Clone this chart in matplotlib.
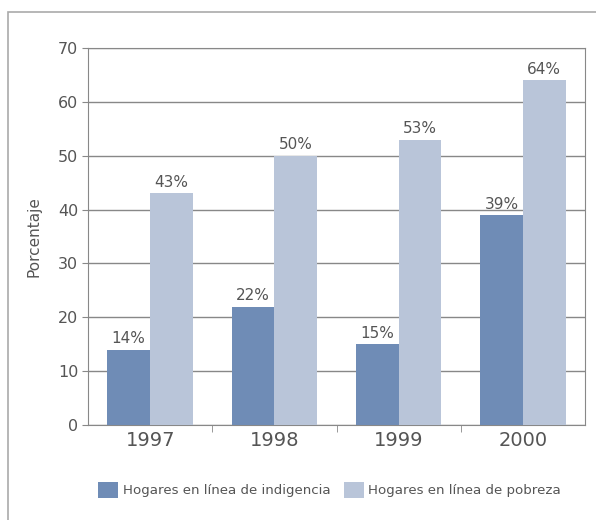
import numpy as np
import matplotlib.pyplot as plt
from matplotlib.patches import Rectangle

years = ['1997', '1998', '1999', '2000']
indigencia = [14, 22, 15, 39]
pobreza = [43, 50, 53, 64]
series_labels = ['Hogares en línea de indigencia', 'Hogares en línea de pobreza']

dark = '#6f8cb6'
light = '#b9c5d9'
grey = '#555555'

fig = plt.figure(figsize=(5.96, 5.2), dpi=100)
ax = fig.add_axes([88 / 596, 1 - 425 / 520, (585 - 88) / 596, (425 - 48) / 520])

# marco exterior
fig.patches.append(Rectangle((8 / 596, -0.1), 1.1, 1 - 12 / 520 + 0.1,
                             transform=fig.transFigure, fill=False,
                             edgecolor='#aaaaaa', linewidth=1.2))

x = np.arange(len(years))
w = 0.345
b1 = ax.bar(x - w / 2, indigencia, w, color=dark, label=series_labels[0], zorder=3)
b2 = ax.bar(x + w / 2, pobreza, w, color=light, label=series_labels[1], zorder=3)

for bars in (b1, b2):
    for bar in bars:
        h = bar.get_height()
        ax.text(bar.get_x() + bar.get_width() / 2, h + 0.6, f'{int(h)}%',
                ha='center', va='bottom', fontsize=11, color=grey)

ax.set_xlim(-0.5, 3.5)
ax.set_ylim(0, 70)
ax.set_yticks(range(0, 71, 10))
ax.yaxis.grid(True, color='#888888', linewidth=1.0, zorder=0)
ax.set_xticks(x)
ax.set_xticklabels(years, fontsize=14, color=grey)
ax.tick_params(axis='x', length=0, pad=4)
ax.set_xticks([0.5, 1.5, 2.5], minor=True)
ax.tick_params(axis='x', which='minor', length=5, color='#888888')
ax.tick_params(axis='y', labelsize=11.5, labelcolor=grey, length=4, pad=3,
               color='#888888')
for s in ax.spines.values():
    s.set_color('#888888')
ax.set_ylabel('Porcentaje', fontsize=11, color=grey, labelpad=12)

fig.legend(handles=[b1, b2], labels=series_labels, loc='center left',
           bbox_to_anchor=(86 / 596, 1 - 490 / 520), ncol=2, frameon=False,
           fontsize=9.6, labelcolor=grey, handlelength=1.5, handleheight=1.5,
           columnspacing=1.0, handletextpad=0.35)

plt.savefig('out.png', dpi=100)
